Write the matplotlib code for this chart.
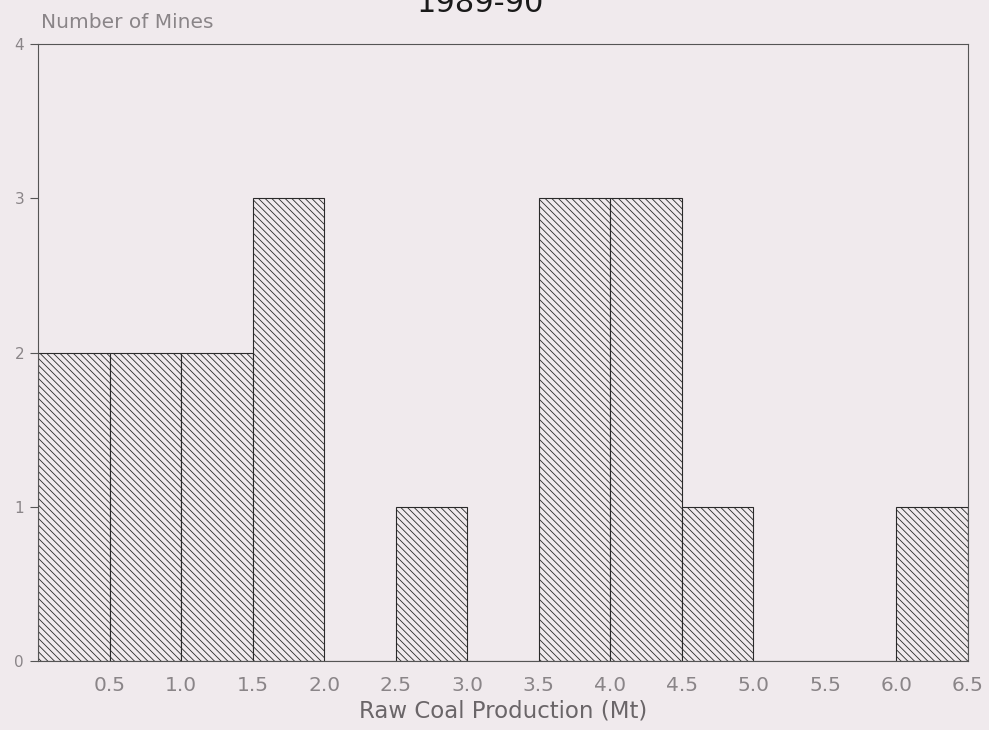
import numpy as np
import matplotlib
matplotlib.use("Agg")
import matplotlib.pyplot as plt

# -- histogram data (bins of 0.5 Mt) --
bin_edges = [0.0, 0.5, 1.0, 1.5, 2.0, 2.5, 3.0, 3.5, 4.0, 4.5, 5.0, 5.5, 6.0, 6.5]
mine_counts = [2, 2, 2, 3, 0, 1, 0, 3, 3, 1, 0, 0, 1]
x_ticks = [0.5, 1.0, 1.5, 2.0, 2.5, 3.0, 3.5, 4.0, 4.5, 5.0, 5.5, 6.0, 6.5]
y_ticks = [0, 1, 2, 3, 4]

bg = "#f0eaed"
grey_txt = "#8a8588"

plt.rcParams["hatch.linewidth"] = 0.6
plt.rcParams["hatch.color"] = "#3a3a3a"

fig = plt.figure(figsize=(9.89, 7.30), dpi=100, facecolor=bg)
ax = fig.add_axes([0.0384, 0.0945, 0.9404, 0.8452], facecolor=bg)

lefts = np.array(bin_edges[:-1])
ax.bar(lefts, mine_counts, width=0.5, align="edge", color=bg,
       edgecolor="#2a2a2a", linewidth=0.8, hatch="\\" * 5)

ax.set_xlim(0, 6.5)
ax.set_ylim(0, 4)

ax.set_xticks(x_ticks)
ax.set_xticklabels([f"{t:.1f}" for t in x_ticks])
ax.set_yticks(y_ticks)
ax.tick_params(axis="x", length=0, pad=11, labelsize=14.5, labelcolor=grey_txt)
ax.tick_params(axis="y", length=6, width=0.8, color="#555555", pad=4,
               labelsize=11, labelcolor=grey_txt)

for s in ax.spines.values():
    s.set_color("#555555")
    s.set_linewidth(0.8)

ax.set_xlabel("Raw Coal Production (Mt)", fontsize=16.5, color="#6a6568", labelpad=3)

fig.text(0.041, 1 - 28 / 730, "Number of Mines", fontsize=14.5, color=grey_txt,
         ha="left", va="baseline")
fig.text(480 / 989, 1 - 12 / 730, "1989-90", fontsize=22, color="#1a1a1a",
         ha="center", va="baseline")

fig.savefig("out.png", dpi=100, facecolor=bg)
